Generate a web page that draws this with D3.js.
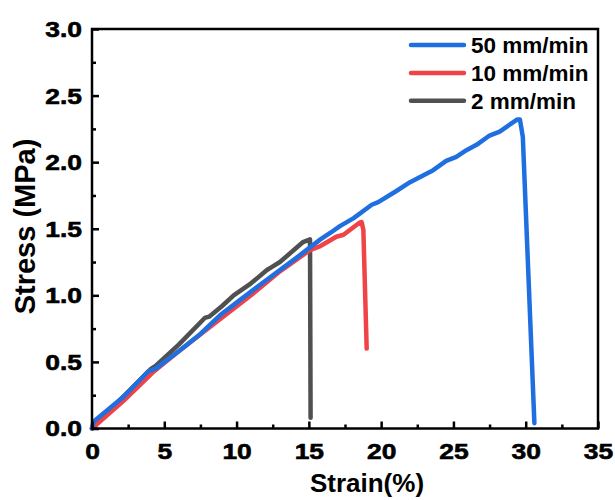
<!DOCTYPE html>
<html>
<head>
<meta charset="utf-8">
<script src="https://cdn.jsdelivr.net/npm/d3@7"></script>
<style>
  html, body { margin: 0; padding: 0; background: #fff; }
  svg { display: block; font-family: Arial, "Liberation Sans", sans-serif; }
</style>
</head>
<body>
<svg id="chart" width="615" height="500"></svg>
<script>
// Stress-strain curves at three crosshead speeds
const seriesNames = ["50 mm/min", "10 mm/min", "2 mm/min"];
const seriesColors = ["#1f6fe0", "#f04347", "#505050"];

const strain50 = [0, 0.1, 2.2, 3.9, 4.4, 6, 7.5, 8.85, 10, 12, 14, 15.8, 16.5, 17.15, 18.1, 19.35, 19.8, 21, 22, 22.9, 23.6, 24.5, 25.2, 25.9, 26.6, 27.5, 28.2, 29.4, 29.6, 29.8, 30.6];
const stress50 = [0, 0.05, 0.24, 0.43, 0.45, 0.58, 0.71, 0.85, 0.945, 1.11, 1.27, 1.42, 1.47, 1.52, 1.58, 1.68, 1.70, 1.78, 1.85, 1.90, 1.94, 2.01, 2.04, 2.09, 2.13, 2.20, 2.23, 2.32, 2.32, 2.19, 0.04];

const strain10 = [0, 2.2, 4.3, 6, 8.85, 11, 13, 15.08, 15.8, 16.9, 17.4, 18.5, 18.65, 18.77, 19.0];
const stress10 = [0, 0.21, 0.43, 0.58, 0.82, 1.0, 1.18, 1.34, 1.37, 1.44, 1.455, 1.545, 1.55, 1.49, 0.60];

const strain2 = [0, 2, 4.1, 4.4, 6, 7.8, 8.1, 9, 9.8, 11, 12.1, 12.4, 13, 14.6, 15.08, 15.12];
const stress2 = [0, 0.22, 0.45, 0.47, 0.63, 0.83, 0.84, 0.92, 1.0, 1.09, 1.19, 1.21, 1.25, 1.40, 1.42, 0.08];

const xTicks = [0, 5, 10, 15, 20, 25, 30, 35];
const yTicks = [0.0, 0.5, 1.0, 1.5, 2.0, 2.5, 3.0];

const series = [
  { name: seriesNames[0], color: seriesColors[0], x: strain50, y: stress50 },
  { name: seriesNames[1], color: seriesColors[1], x: strain10, y: stress10 },
  { name: seriesNames[2], color: seriesColors[2], x: strain2, y: stress2 }
];

const svg = d3.select("#chart");
const margin = { left: 92, right: 17, top: 29, bottom: 71.5 };
const W = 615, H = 500;
const x = d3.scaleLinear().domain([0, 35]).range([margin.left, W - margin.right]);
const y = d3.scaleLinear().domain([0, 3]).range([H - margin.bottom, margin.top]);

// curves (drawn beneath the frame)
const line = d3.line().x(d => x(d[0])).y(d => y(d[1]));
const drawOrder = [2, 1, 0];
svg.append("g").selectAll("path")
  .data(drawOrder.map(i => series[i]))
  .join("path")
  .attr("d", s => line(s.x.map((v, i) => [v, s.y[i]])))
  .attr("fill", "none")
  .attr("stroke", s => s.color)
  .attr("stroke-width", 4.5)
  .attr("stroke-linejoin", "round")
  .attr("stroke-linecap", "round");

// frame
svg.append("rect")
  .attr("x", x(0)).attr("y", y(3))
  .attr("width", x(35) - x(0)).attr("height", y(0) - y(3))
  .attr("fill", "none").attr("stroke", "#000").attr("stroke-width", 2.5);

// inward ticks; tick labels are set in a wide, heavy bold face
const stretch = 1.2;
const xMinor = d3.range(2.5, 35, 5);
const yMinor = d3.range(0.25, 3, 0.5);
const xAxis = svg.append("g").attr("transform", `translate(0,${y(0)})`)
  .call(d3.axisBottom(x).tickValues(xTicks).tickSize(-7).tickFormat(d3.format("d")).tickPadding(15));
const xAxisMinor = svg.append("g").attr("transform", `translate(0,${y(0)})`)
  .call(d3.axisBottom(x).tickValues(xMinor).tickSize(-4).tickFormat(""));
const yAxis = svg.append("g").attr("transform", `translate(${x(0)},0)`)
  .call(d3.axisLeft(y).tickValues(yTicks).tickSize(-7).tickFormat(d3.format(".1f")));
const yAxisMinor = svg.append("g").attr("transform", `translate(${x(0)},0)`)
  .call(d3.axisLeft(y).tickValues(yMinor).tickSize(-4).tickFormat(""));

[xAxis, xAxisMinor, yAxis, yAxisMinor].forEach(g => {
  g.select(".domain").remove();
  g.selectAll(".tick line").attr("stroke", "#000").attr("stroke-width", 2.5);
  g.selectAll("text").attr("font-size", 22).attr("font-weight", "bold").attr("fill", "#000")
    .attr("stroke", "#000").attr("stroke-width", 0.6)
    .attr("font-family", "Arial, 'Liberation Sans', sans-serif")
    .attr("transform", `scale(${stretch},1)`);
});
xAxis.selectAll("text").attr("dy", "0.71em");
yAxis.selectAll("text").attr("x", -10 / stretch).attr("dy", "0.34em");

// axis titles
svg.append("text")
  .attr("x", 367).attr("y", 492)
  .attr("text-anchor", "middle").attr("font-size", 26).attr("font-weight", "bold")
  .text("Strain(%)");
svg.append("text")
  .attr("transform", `translate(35,226.5) rotate(-90)`)
  .attr("text-anchor", "middle").attr("font-size", 29).attr("font-weight", "bold")
  .text("Stress (MPa)");

// legend
const legend = svg.append("g");
series.forEach((s, i) => {
  const yy = 45 + i * 27.9;
  legend.append("line")
    .attr("x1", 411).attr("x2", 464).attr("y1", yy).attr("y2", yy)
    .attr("stroke", s.color).attr("stroke-width", 4.5).attr("stroke-linecap", "round");
  legend.append("text")
    .attr("x", 471).attr("y", yy).attr("dy", "0.36em")
    .attr("font-size", 22.5).attr("font-weight", "bold")
    .text(s.name);
});
</script>
</body>
</html>
